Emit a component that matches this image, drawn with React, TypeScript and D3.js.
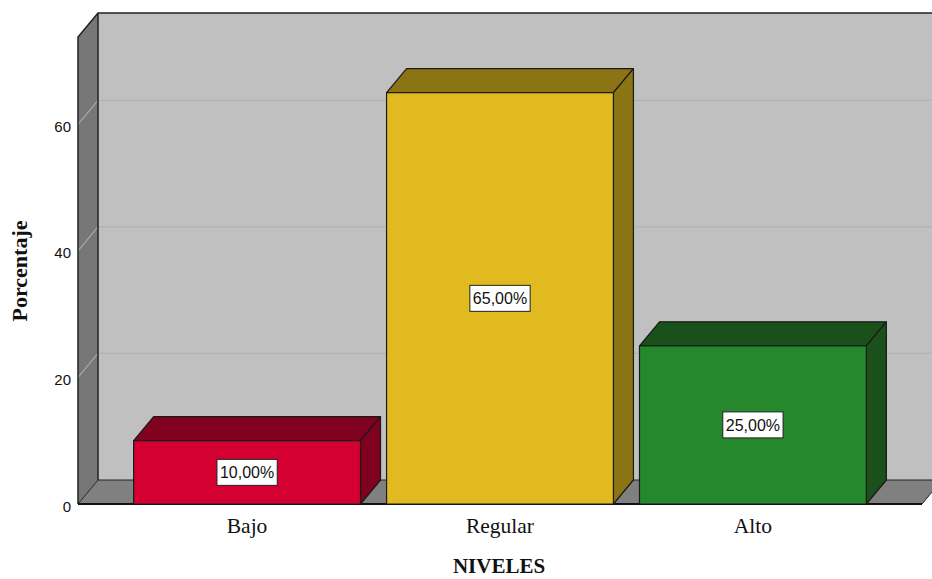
import React, { useEffect, useRef } from 'react';
import * as d3 from 'd3';

const categories = ['Bajo', 'Regular', 'Alto'];
const percentages = [10, 65, 25];
const valueLabels = ['10,00%', '65,00%', '25,00%'];
const yTicks = [0, 20, 40, 60];
const frontColors = ['#d40032', '#e0ba1e', '#26882c'];
const darkColors = ['#80001f', '#8a7414', '#1a501a'];

const App: React.FC = () => {
  const svgRef = useRef<SVGSVGElement>(null);

  useEffect(() => {
    if (!svgRef.current) return;
    const svg = d3.select(svgRef.current);
    svg.selectAll('*').remove();

    const width = 932;
    const height = 579;
    // depth offset of the 3D box
    const dx = 20;
    const dy = -24;

    const x = d3.scaleBand()
      .domain(categories)
      .range([78, 922])
      .paddingInner(0.103)
      .paddingOuter(0.22);

    const y = d3.scaleLinear()
      .domain([0, 73.8])
      .range([504, 37]);

    svg.attr('width', width).attr('height', height);

    const [x0, x1] = x.range();
    const y0 = y(0);
    const yTop = y(73.8);

    const poly = (pts: [number, number][]) => pts.map(p => p.join(',')).join(' ');

    // back wall
    svg.append('polygon')
      .attr('points', poly([[x0 + dx, yTop + dy], [x1 + dx + 20, yTop + dy], [x1 + dx + 20, y0 + dy], [x0 + dx, y0 + dy]]))
      .attr('fill', '#c0c0c0');

    // left wall
    svg.append('polygon')
      .attr('points', poly([[x0, yTop], [x0 + dx, yTop + dy], [x0 + dx, y0 + dy], [x0, y0]]))
      .attr('fill', '#777777');

    // floor
    svg.append('polygon')
      .attr('points', poly([[x0, y0], [x0 + dx, y0 + dy], [x1 + dx, y0 + dy], [x1, y0]]))
      .attr('fill', '#808080')
      .attr('stroke', '#222')
      .attr('stroke-width', 1);

    // gridlines
    yTicks.filter(t => t > 0).forEach(t => {
      svg.append('line')
        .attr('x1', x0 + dx).attr('x2', width)
        .attr('y1', y(t) + dy).attr('y2', y(t) + dy)
        .attr('stroke', '#b2b2b2').attr('stroke-width', 1.2);
      svg.append('line')
        .attr('x1', x0).attr('x2', x0 + dx)
        .attr('y1', y(t)).attr('y2', y(t) + dy)
        .attr('stroke', '#a8a8a8').attr('stroke-width', 1.2);
    });

    // box outlines
    svg.append('path')
      .attr('d', `M${x0},${y0} L${x0},${yTop} L${x0 + dx},${yTop + dy} L${width},${yTop + dy}`)
      .attr('fill', 'none').attr('stroke', '#222').attr('stroke-width', 1.5);
    svg.append('line')
      .attr('x1', x0 + dx).attr('x2', x0 + dx)
      .attr('y1', yTop + dy).attr('y2', y0 + dy)
      .attr('stroke', '#222').attr('stroke-width', 1.5);
    svg.append('line')
      .attr('x1', x0).attr('x2', x1)
      .attr('y1', y0).attr('y2', y0)
      .attr('stroke', '#111').attr('stroke-width', 2);

    // bars
    categories.forEach((c, i) => {
      const bx = x(c)!;
      const bw = x.bandwidth();
      const by = y(percentages[i]);
      const g = svg.append('g').attr('stroke', '#1a1a1a').attr('stroke-width', 1.2).attr('stroke-linejoin', 'round');
      g.append('polygon')
        .attr('points', poly([[bx, by], [bx + dx, by + dy], [bx + bw + dx, by + dy], [bx + bw, by]]))
        .attr('fill', darkColors[i]);
      g.append('polygon')
        .attr('points', poly([[bx + bw, by], [bx + bw + dx, by + dy], [bx + bw + dx, y0 + dy], [bx + bw, y0]]))
        .attr('fill', darkColors[i]);
      g.append('rect')
        .attr('x', bx).attr('y', by)
        .attr('width', bw).attr('height', y0 - by)
        .attr('fill', frontColors[i]);

      // value label
      const cx = bx + bw / 2;
      const cy = (by + y0) / 2;
      const lbl = svg.append('g');
      const txt = lbl.append('text')
        .attr('x', cx).attr('y', cy + 6)
        .attr('text-anchor', 'middle')
        .attr('font-family', 'Liberation Sans, Arial, sans-serif')
        .attr('font-size', 16)
        .attr('fill', '#111')
        .text(valueLabels[i]);
      const bb = (txt.node() as SVGTextElement).getBBox();
      lbl.insert('rect', 'text')
        .attr('x', bb.x - 3).attr('y', cy - 13)
        .attr('width', bb.width + 6).attr('height', 26)
        .attr('fill', '#fff').attr('stroke', '#222').attr('stroke-width', 1);

      // category label
      svg.append('text')
        .attr('x', cx).attr('y', 533)
        .attr('text-anchor', 'middle')
        .attr('font-family', 'Liberation Serif, serif')
        .attr('font-size', 21.5)
        .attr('fill', '#111')
        .text(c);
    });

    // y tick labels
    yTicks.forEach(t => {
      svg.append('text')
        .attr('x', 71).attr('y', y(t) + 7.5)
        .attr('text-anchor', 'end')
        .attr('font-family', 'Liberation Sans, Arial, sans-serif')
        .attr('font-size', 15)
        .attr('fill', '#111')
        .text(t);
    });

    // axis titles
    svg.append('text')
      .attr('x', 499).attr('y', 573)
      .attr('text-anchor', 'middle')
      .attr('font-family', 'Liberation Serif, serif')
      .attr('font-weight', 'bold')
      .attr('font-size', 21)
      .attr('fill', '#111')
      .text('NIVELES');
    svg.append('text')
      .attr('transform', 'translate(27,271) rotate(-90)')
      .attr('text-anchor', 'middle')
      .attr('font-family', 'Liberation Serif, serif')
      .attr('font-weight', 'bold')
      .attr('font-size', 22)
      .attr('fill', '#111')
      .text('Porcentaje');
  }, []);

  return (
    <div style={{ position: 'absolute', left: 0, top: 0, background: '#fff' }}>
      <svg ref={svgRef} style={{ display: 'block' }}></svg>
    </div>
  );
};

export default App;
